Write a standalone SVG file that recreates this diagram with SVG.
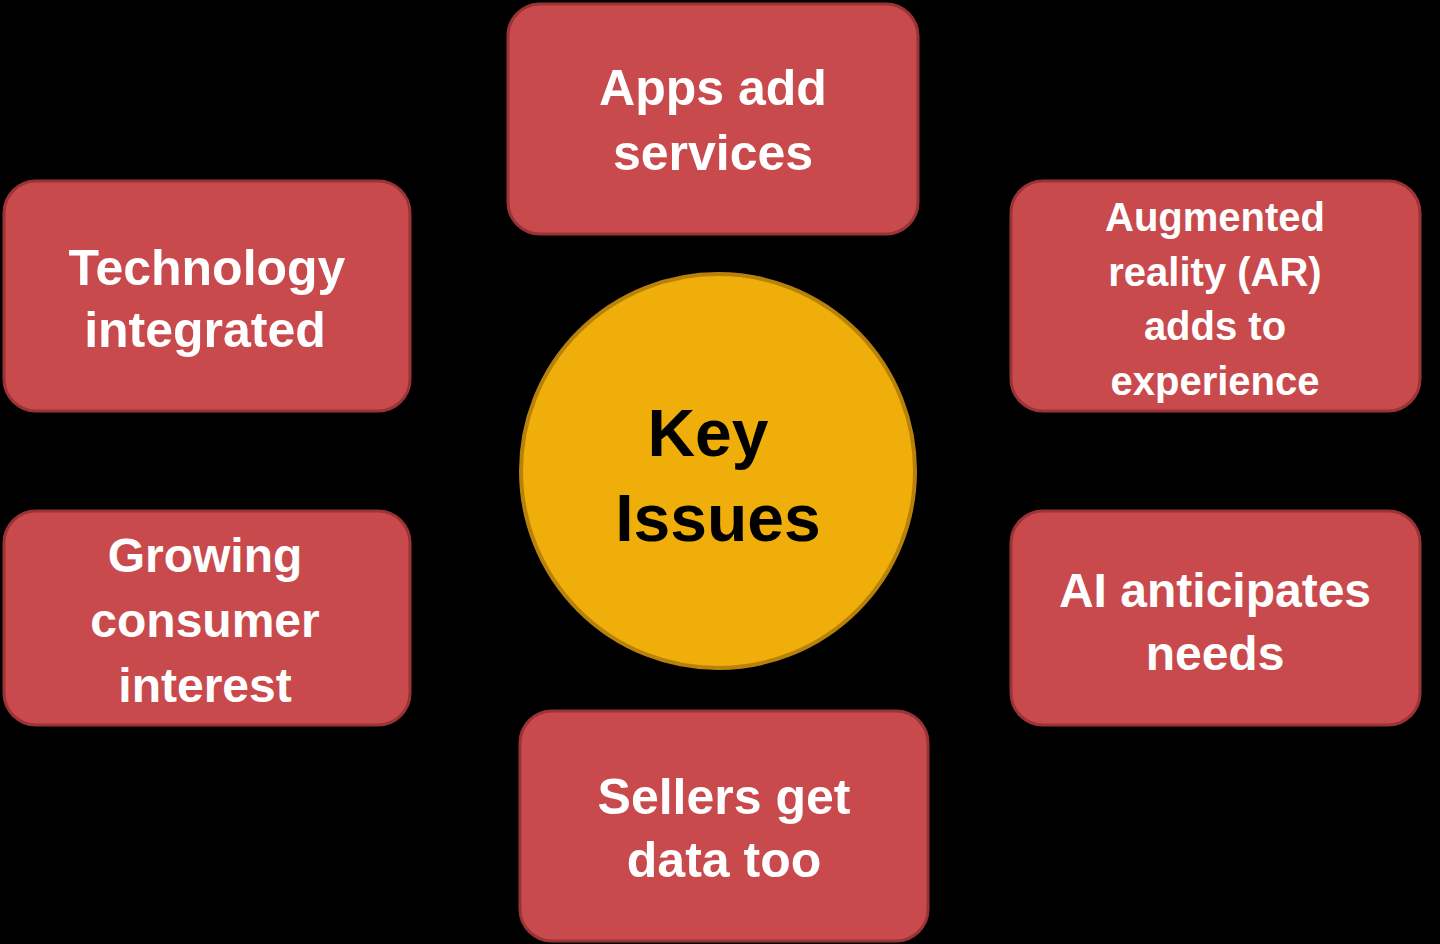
<svg xmlns="http://www.w3.org/2000/svg" width="1440" height="944" viewBox="0 0 1440 944">
<style>
.b{fill:#C94A4C;stroke:#9a3335;stroke-width:3}
.t{font-family:"Liberation Sans",Arial,sans-serif;font-weight:bold;fill:#fff;text-anchor:middle;dominant-baseline:central}
.k{font-family:"Liberation Sans",Arial,sans-serif;font-weight:bold;fill:#000;text-anchor:middle;dominant-baseline:central;font-size:66px}
</style>
<rect width="1440" height="944" fill="#000"/>
<g id="connectors"/>
<g id="center"><circle cx="718" cy="471" r="197" fill="#F0AE0A" stroke="#b8820a" stroke-width="4"/>
<text class="k" x="708" y="433">Key</text><text class="k" x="718" y="518">Issues</text></g>
<g id="apps"><rect class="b" x="508" y="4" width="410" height="230" rx="32"/>
<text class="t" x="713" y="88" font-size="50">Apps add</text><text class="t" x="713" y="153" font-size="50">services</text></g>
<g id="tech"><rect class="b" x="4" y="181" width="406" height="230" rx="32"/>
<text class="t" x="207" y="268" font-size="50">Technology</text><text class="t" x="205" y="330" font-size="50">integrated</text></g>
<g id="ar"><rect class="b" x="1011" y="181" width="409" height="230" rx="32"/>
<text class="t" x="1215" y="217" font-size="40">Augmented</text><text class="t" x="1215" y="272" font-size="40">reality (AR)</text>
<text class="t" x="1215" y="326" font-size="40">adds to</text><text class="t" x="1215" y="381" font-size="40">experience</text></g>
<g id="growing"><rect class="b" x="4" y="511" width="406" height="214" rx="32"/>
<text class="t" x="205" y="555" font-size="48">Growing</text><text class="t" x="205" y="620" font-size="48">consumer</text><text class="t" x="205" y="685" font-size="48">interest</text></g>
<g id="ai"><rect class="b" x="1011" y="511" width="409" height="214" rx="32"/>
<text class="t" x="1215" y="590" font-size="48">AI anticipates</text><text class="t" x="1215" y="653" font-size="48">needs</text></g>
<g id="sellers"><rect class="b" x="520" y="711" width="408" height="230" rx="32"/>
<text class="t" x="724" y="797" font-size="50">Sellers get</text><text class="t" x="724" y="860" font-size="50">data too</text></g>
</svg>
